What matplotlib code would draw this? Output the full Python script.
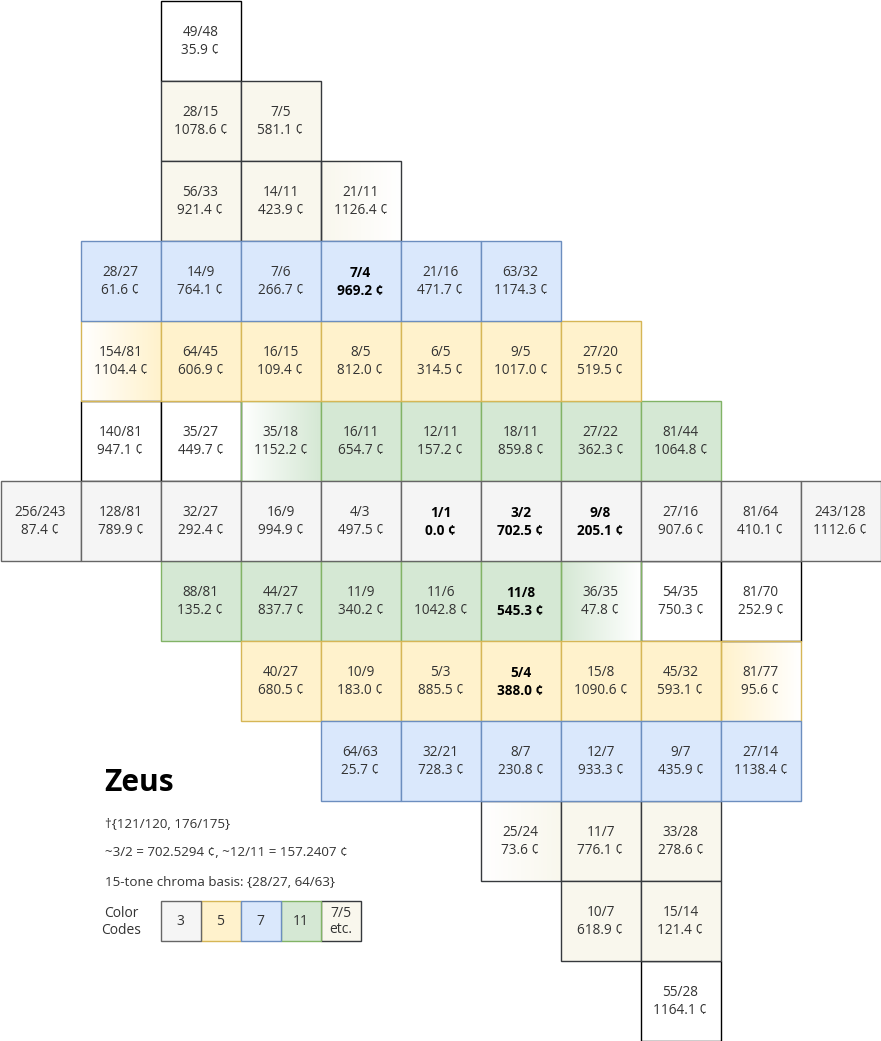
import numpy as np
import matplotlib
matplotlib.use('Agg')
import matplotlib.pyplot as plt
from matplotlib.patches import Rectangle
from matplotlib.colors import to_rgb

plt.rcParams['font.family'] = ['Open Sans', 'DejaVu Sans']

# lattice data, one list per row (top to bottom)
row_start = [2, 2, 2, 1, 1, 1, 0, 2, 3, 4, 6, 7, 8]
ratios = [
    ['49/48'],
    ['28/15', '7/5'],
    ['56/33', '14/11', '21/11'],
    ['28/27', '14/9', '7/6', '7/4', '21/16', '63/32'],
    ['154/81', '64/45', '16/15', '8/5', '6/5', '9/5', '27/20'],
    ['140/81', '35/27', '35/18', '16/11', '12/11', '18/11', '27/22', '81/44'],
    ['256/243', '128/81', '32/27', '16/9', '4/3', '1/1', '3/2', '9/8', '27/16', '81/64', '243/128'],
    ['88/81', '44/27', '11/9', '11/6', '11/8', '36/35', '54/35', '81/70'],
    ['40/27', '10/9', '5/3', '5/4', '15/8', '45/32', '81/77'],
    ['64/63', '32/21', '8/7', '12/7', '9/7', '27/14'],
    ['25/24', '11/7', '33/28'],
    ['10/7', '15/14'],
    ['55/28'],
]
cents = [
    [35.9],
    [1078.6, 581.1],
    [921.4, 423.9, 1126.4],
    [61.6, 764.1, 266.7, 969.2, 471.7, 1174.3],
    [1104.4, 606.9, 109.4, 812.0, 314.5, 1017.0, 519.5],
    [947.1, 449.7, 1152.2, 654.7, 157.2, 859.8, 362.3, 1064.8],
    [87.4, 789.9, 292.4, 994.9, 497.5, 0.0, 702.5, 205.1, 907.6, 410.1, 1112.6],
    [135.2, 837.7, 340.2, 1042.8, 545.3, 47.8, 750.3, 252.9],
    [680.5, 183.0, 885.5, 388.0, 1090.6, 593.1, 95.6],
    [25.7, 728.3, 230.8, 933.3, 435.9, 1138.4],
    [73.6, 776.1, 278.6],
    [618.9, 121.4],
    [1164.1],
]
# w=plain, e=7/5 etc., 3/5/7/g(11) = prime families
kinds = [
    'w', 'ee', 'eee', '777777', '5555555', 'wwgggggg',
    '33333333333', 'ggggggww', '5555555', '777777', 'eee', 'ee', 'w',
]
bold = ['7/4', '1/1', '3/2', '9/8', '11/8', '5/4']
# cells whose fill fades to white: 'L' = colour on left, 'R' = colour on right
fade = {'21/11': 'L', '154/81': 'R', '35/18': 'R', '36/35': 'L', '81/77': 'L', '25/24': 'R'}

fills = {'w': '#ffffff', 'e': '#f9f7ed', '3': '#f5f5f5', '5': '#fff2cc',
         '7': '#dae8fc', 'g': '#d5e8d4'}
edges = {'w': '#000000', 'e': '#36393d', '3': '#666666', '5': '#d6b656',
         '7': '#6c8ebf', 'g': '#82b366'}
order = ['w', 'e', 'g', '5', '7', '3']

legend_labels = ['3', '5', '7', '11', '7/5\netc.']
legend_kinds = ['3', '5', '7', 'g', 'e']
notes = ['†{121/120, 176/175}',
         '~3/2 = 702.5294 ¢, ~12/11 = 157.2407 ¢',
         '15-tone chroma basis: {28/27, 64/63}']

W, H = 881, 1041
S = 80
fig = plt.figure(figsize=(W / 100, H / 100), dpi=100)
ax = fig.add_axes([0, 0, 1, 1])
ax.axis('off')


def draw_cell(x, y, k, top, bottom, fd=None, weight='normal'):
    if fd:
        c = np.array(to_rgb(fills[k]))
        t = np.linspace(0, 1, 80)
        if fd == 'L':
            t = t[::-1]
        img = (1 - t)[:, None] * np.ones(3) + t[:, None] * c
        ax.imshow(img[None, :, :], extent=[x, x + S, y + S, y],
                  interpolation='bilinear', zorder=1)
        ax.add_patch(Rectangle((x, y), S, S, fc='none', ec=edges[k],
                               lw=1, zorder=2 + order.index(k)))
    else:
        ax.add_patch(Rectangle((x, y), S, S, fc=fills[k], ec=edges[k],
                               lw=1, zorder=2 + order.index(k)))
    col = '#000000' if weight == 'bold' else '#333333'
    ax.text(x + S / 2, y + S / 2 - 7.5, top, ha='center', va='center',
            fontsize=9.8, color=col, fontweight=weight, zorder=20)
    if bottom:
        ax.text(x + S / 2, y + S / 2 + 10.5, bottom, ha='center', va='center',
                fontsize=9.8, color=col, fontweight=weight, zorder=20)


for r, (st, rats, cs, ks) in enumerate(zip(row_start, ratios, cents, kinds)):
    for i, (q, c, k) in enumerate(zip(rats, cs, ks)):
        x = (st + i) * S + 0.5
        y = r * S + 0.5
        w = 'bold' if q in bold else 'normal'
        draw_cell(x, y, k, q, f'{c:.1f} ¢', fade.get(q), w)

# legend block
ax.text(104, 783, 'Zeus', fontsize=21.5, fontweight='bold', color='#000000',
        ha='left', va='center')
for j, n in enumerate(notes):
    ax.text(105, 824 + j * 29, n, fontsize=9.6, color='#333333', ha='left', va='center')
ax.text(121, 922, 'Color\nCodes', fontsize=10, color='#333333', ha='center',
        va='center', linespacing=1.1)
for j, (lab, k) in enumerate(zip(legend_labels, legend_kinds)):
    x = 160.5 + j * 40
    ax.add_patch(Rectangle((x, 900.5), 40, 40, fc=fills[k], ec=edges[k],
                           lw=1, zorder=2 + order.index(k)))
    ax.text(x + 20, 921.5, lab, fontsize=10, color='#333333', ha='center',
            va='center', linespacing=1.05, zorder=20)

ax.set_xlim(0, W)
ax.set_ylim(H, 0)
ax.set_aspect('auto')
fig.savefig('out.png', dpi=100)
